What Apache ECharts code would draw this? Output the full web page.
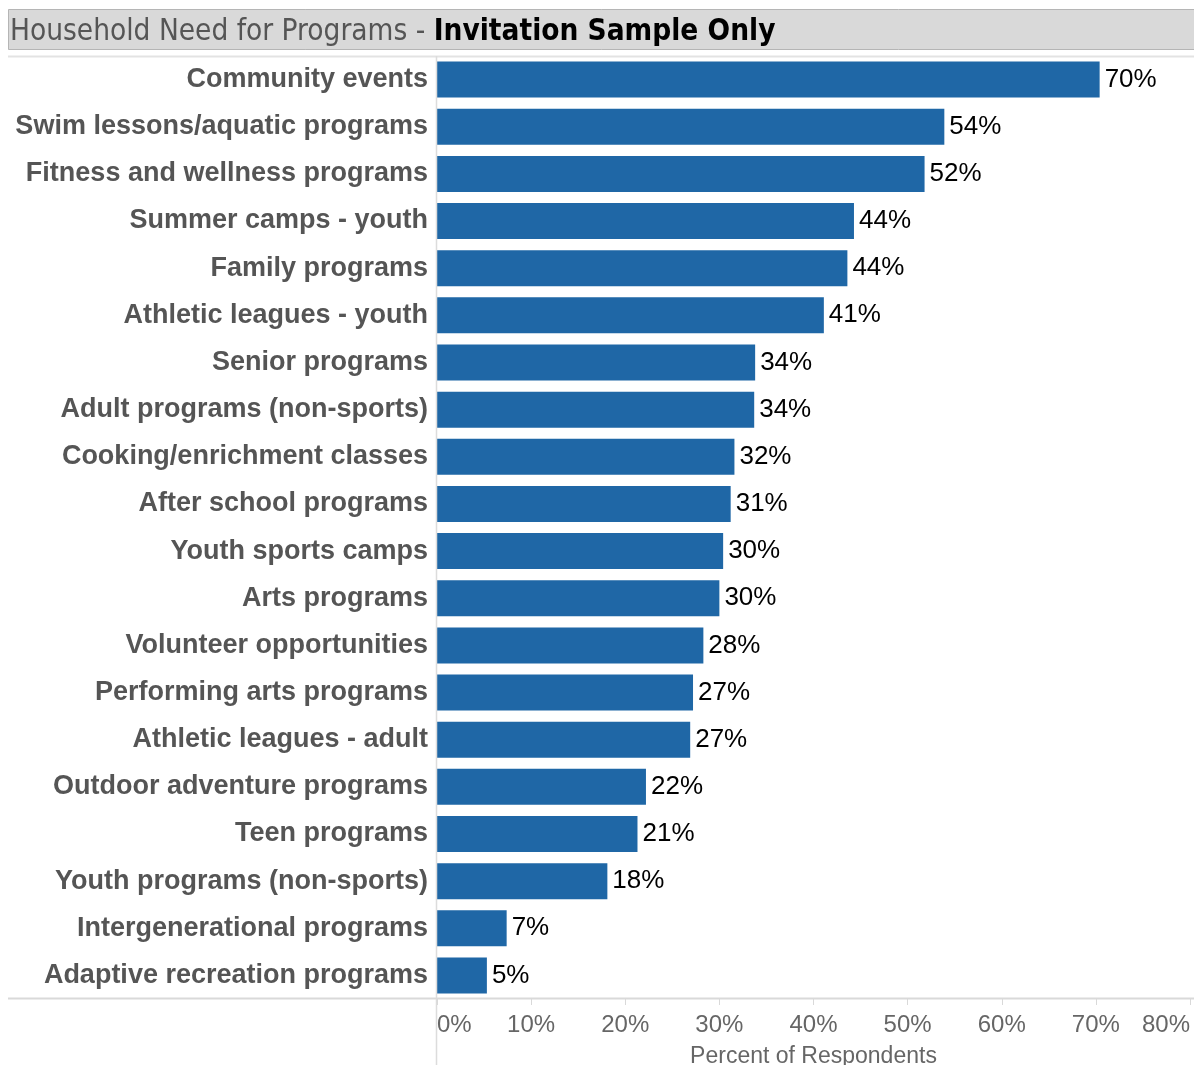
<!DOCTYPE html>
<html>
<head>
<meta charset="utf-8">
<script src="https://cdn.jsdelivr.net/npm/echarts@6/dist/echarts.min.js"></script>
<style>
html,body{margin:0;padding:0;background:#fff;}
#chart{width:1194px;height:1065px;}
</style>
</head>
<body>
<div id="chart"></div>
<script>
const categories = [
  "Community events",
  "Swim lessons/aquatic programs",
  "Fitness and wellness programs",
  "Summer camps - youth",
  "Family programs",
  "Athletic leagues - youth",
  "Senior programs",
  "Adult programs (non-sports)",
  "Cooking/enrichment classes",
  "After school programs",
  "Youth sports camps",
  "Arts programs",
  "Volunteer opportunities",
  "Performing arts programs",
  "Athletic leagues - adult",
  "Outdoor adventure programs",
  "Teen programs",
  "Youth programs (non-sports)",
  "Intergenerational programs",
  "Adaptive recreation programs"
];
const values = [70.4, 53.9, 51.8, 44.3, 43.6, 41.1, 33.8, 33.7, 31.6, 31.2, 30.4, 30.0, 28.3, 27.2, 26.9, 22.2, 21.3, 18.1, 7.4, 5.3];
const xTicks = [0, 10, 20, 30, 40, 50, 60, 70, 80];
const titleGrey = "Household Need for Programs - ";
const titleBold = "Invitation Sample Only";
const axisTitle = "Percent of Respondents";

const chart = echarts.init(document.getElementById('chart'));
chart.setOption({
  animation: false,
  backgroundColor: '#fff',
  grid: { left: 437, right: 4, top: 56, bottom: 66, containLabel: false, outerBoundsMode: 'none' },
  xAxis: {
    type: 'value',
    min: xTicks[0],
    max: xTicks[xTicks.length - 1],
    interval: 10,
    splitLine: { show: false },
    axisLine: { show: false },
    axisTick: { show: true, length: 6, lineStyle: { color: '#d9d9d9' } },
    axisLabel: {
      formatter: v => v + '%',
      color: '#666',
      fontFamily: 'Liberation Sans Narrow, Arial Narrow, Liberation Sans, Arial',
      fontSize: 24,
      margin: 14,
      alignMinLabel: 'left',
      alignMaxLabel: 'right'
    },
    name: axisTitle,
    nameLocation: 'middle',
    nameGap: 46,
    nameTextStyle: {
      color: '#666',
      fontFamily: 'Liberation Sans Narrow, Arial Narrow, Liberation Sans, Arial',
      fontSize: 23
    }
  },
  yAxis: {
    type: 'category',
    inverse: true,
    data: categories,
    axisLine: { show: false },
    axisTick: { show: false },
    splitLine: { show: false },
    axisLabel: {
      color: '#555',
      fontFamily: 'Liberation Sans, Arial',
      fontWeight: 'bold',
      fontSize: 27,
      margin: 9
    }
  },
  series: [{
    type: 'bar',
    data: values,
    barWidth: 36,
    itemStyle: { color: '#1f67a6' },
    label: {
      show: true,
      position: 'right',
      distance: 5,
      formatter: p => Math.round(p.value) + '%',
      color: '#000',
      fontFamily: 'Liberation Sans, Arial',
      fontSize: 26
    }
  }],
  graphic: [
    { type: 'rect', z: 10, shape: { x: 8.5, y: 9.5, width: 1190, height: 40 },
      style: { fill: '#d9d9d9', stroke: '#b5b5b5', lineWidth: 1 } },
    { type: 'text', z: 11, x: 10, y: 32,
      style: {
        text: '{g|' + titleGrey + '}{b|' + titleBold + '}',
        verticalAlign: 'middle',
        rich: {
          g: { fill: '#555', fontFamily: 'DejaVu Sans Condensed, DejaVu Sans', fontSize: 29.5 },
          b: { fill: '#000', fontFamily: 'DejaVu Sans Condensed, DejaVu Sans', fontSize: 29.5, fontWeight: 'bold' }
        }
      } },
    { type: 'line', z: 5, shape: { x1: 8, y1: 56.5, x2: 1194, y2: 56.5 },
      style: { stroke: '#e3e3e3', lineWidth: 2 } },
    { type: 'line', z: 5, shape: { x1: 436.5, y1: 56, x2: 436.5, y2: 1065 },
      style: { stroke: '#dcdcdc', lineWidth: 1.5 } },
    { type: 'line', z: 5, shape: { x1: 8, y1: 998.5, x2: 1194, y2: 998.5 },
      style: { stroke: '#d9d9d9', lineWidth: 2 } }
  ]
});
</script>
</body>
</html>
